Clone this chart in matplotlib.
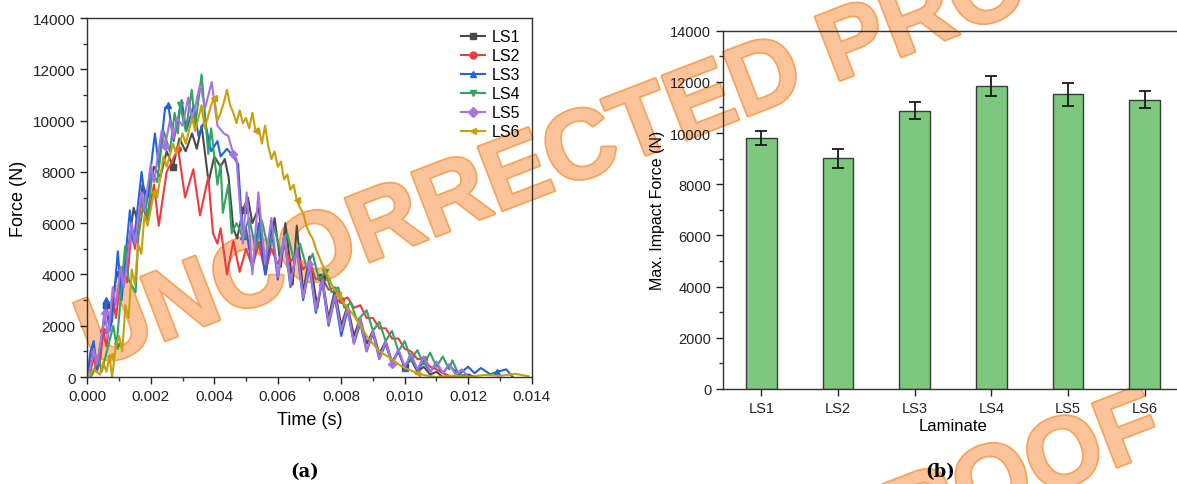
import matplotlib
matplotlib.use("Agg")
import matplotlib.pyplot as plt
import matplotlib.patheffects as pe
from matplotlib.ticker import MultipleLocator, FormatStrFormatter

plt.rcParams['font.family'] = ['Liberation Sans', 'DejaVu Sans']

# ---- panel (a): force-time curves (peaks/troughs) ----
t_ls1 = [0, 0.0001, 0.0002, 0.0003, 0.00045, 0.0006, 0.0007, 0.00085, 0.00096, 0.0011, 0.0013, 0.00146,
         0.0016, 0.00174, 0.0019, 0.0021, 0.0023, 0.0025, 0.0027, 0.0029, 0.0031, 0.0033, 0.00345, 0.0036,
         0.00382, 0.004, 0.0042, 0.00433, 0.00445, 0.0046, 0.00472, 0.0049, 0.00506, 0.0052, 0.0054, 0.00562,
         0.0059, 0.0061, 0.00624, 0.00647, 0.0066, 0.0068, 0.007, 0.00725, 0.0074, 0.0076, 0.0078, 0.008,
         0.0082, 0.0084, 0.0086, 0.0088, 0.009, 0.0092, 0.0094, 0.0096, 0.0098, 0.01, 0.0102, 0.0104, 0.0106,
         0.0108, 0.011, 0.0112, 0.0116, 0.012, 0.0122]
f_ls1 = [0, 500, 1200, 400, 1500, 2800, 2000, 3500, 4100, 3500, 5100, 6600,
         6000, 7500, 7000, 8200, 7800, 8800, 8200, 9300, 8800, 9500, 8900, 9800,
         7600, 8600, 8200, 8500, 7800, 5800, 5400, 6500, 7000, 6000, 6600, 4000,
         6200, 4300, 6000, 3600, 5900, 3300, 4700, 2700, 3900, 2300, 3400, 2000,
         2800, 1600, 2300, 1300, 1800, 900, 1400, 600, 1000, 400, 700, 200, 400,
         100, 200, 0, 0, 100, 0]

t_ls2 = [0, 0.0001, 0.0002, 0.0003, 0.0004, 0.0005, 0.0006, 0.0008, 0.0009, 0.0011, 0.00125, 0.0014,
         0.0015, 0.0017, 0.0019, 0.0021, 0.00225, 0.0025, 0.00286, 0.00308, 0.00334, 0.00355, 0.00381,
         0.00396, 0.0041, 0.0042, 0.0044, 0.0046, 0.0048, 0.005, 0.0052, 0.0054, 0.0056, 0.0058, 0.006,
         0.0062, 0.0064, 0.0066, 0.0068, 0.007, 0.0072, 0.0074, 0.0076, 0.0078, 0.008, 0.0082, 0.0084,
         0.0086, 0.0088, 0.009, 0.0092, 0.0094, 0.0096, 0.0098, 0.01, 0.0102, 0.0104, 0.0106, 0.0108,
         0.011, 0.0112, 0.0114, 0.0116, 0.012]
f_ls2 = [0, 200, 800, 200, 600, 1800, 1200, 3200, 2300, 4300, 3700, 5800,
         5000, 6800, 6100, 7500, 5900, 8000, 8900, 7000, 8100, 6300, 7800,
         5600, 5200, 5800, 4000, 5300, 4100, 5000, 4300, 5200, 4100, 5000, 4400,
         5100, 4500, 4800, 4200, 4500, 3800, 3900, 3400, 3500, 3000, 3100, 2700,
         2800, 2300, 2300, 1900, 1900, 1500, 1500, 1100, 1000, 700, 700, 400,
         300, 150, 50, 0, 0]

t_ls3 = [0, 0.0001, 0.0002, 0.0003, 0.00045, 0.00058, 0.0007, 0.00078, 0.00096, 0.00108, 0.00115, 0.00134,
         0.00146, 0.00171, 0.00185, 0.00213, 0.00225, 0.00245, 0.00255, 0.00272, 0.00297, 0.00312, 0.00335,
         0.0035, 0.0037, 0.0039, 0.0041, 0.0042, 0.0044, 0.0046, 0.00475, 0.0049, 0.005, 0.0052, 0.0054,
         0.0056, 0.0058, 0.006, 0.0062, 0.0064, 0.0066, 0.0068, 0.007, 0.0072, 0.0074, 0.0076, 0.0078,
         0.008, 0.0082, 0.0084, 0.0086, 0.0088, 0.009, 0.0092, 0.0094, 0.0096, 0.0098, 0.01, 0.0102,
         0.0104, 0.0106, 0.0108, 0.011, 0.0112, 0.0114, 0.0117, 0.012, 0.0122, 0.0124, 0.0127, 0.0129,
         0.0132, 0.0134]
f_ls3 = [0, 1000, 1400, 300, 1500, 3000, 1800, 2200, 4900, 3000, 4000, 6500,
         5200, 8000, 6600, 9500, 8200, 10500, 10600, 9200, 10800, 9600, 10600,
         9400, 10000, 8800, 9200, 8600, 8900, 8600, 8300, 5500, 5800, 4200, 6000,
         4000, 5800, 3800, 5500, 3500, 5000, 3000, 4300, 2500, 3700, 2000, 3100,
         1600, 2600, 1300, 2100, 1000, 1700, 700, 1300, 500, 1000, 350, 800,
         250, 600, 200, 500, 150, 450, 100, 400, 150, 350, 100, 200,
         300, 0]

t_ls4 = [0.0001, 0.0002, 0.00035, 0.00045, 0.00082, 0.00092, 0.00119, 0.0013, 0.00152, 0.00161, 0.0018,
         0.0019, 0.00205, 0.0022, 0.0024, 0.0026, 0.00275, 0.00285, 0.00292, 0.0031, 0.00329, 0.0034,
         0.0036, 0.00381, 0.0039, 0.0041, 0.0042, 0.00427, 0.00444, 0.00455, 0.0047, 0.0049, 0.0051,
         0.0053, 0.0055, 0.0057, 0.0059, 0.0061, 0.0063, 0.0065, 0.0067, 0.0069, 0.0071, 0.0073, 0.0075,
         0.0077, 0.0079, 0.0081, 0.0083, 0.0085, 0.0088, 0.009, 0.0092, 0.0094, 0.0096, 0.0098, 0.01,
         0.0102, 0.0104, 0.0106, 0.0108, 0.011, 0.0112, 0.0114, 0.0115, 0.0117, 0.0119, 0.0121]
f_ls4 = [0, 200, 800, 200, 2000, 1200, 5100, 3800, 3300, 5500, 7000,
         6200, 8000, 7600, 9600, 8800, 10300, 9500, 10600, 9600, 11200, 9800,
         11800, 8700, 9700, 7500, 8300, 6400, 7500, 5600, 6000, 5500, 6200,
         5000, 6100, 5000, 5800, 4800, 5600, 4600, 5200, 4300, 4800, 3800, 4100,
         3300, 3500, 2700, 2900, 2200, 2600, 1800, 2150, 1400, 1800, 1000, 1400,
         700, 1050, 500, 950, 400, 800, 300, 650, 100, 50, 0]

t_ls5 = [0, 0.0001, 0.0002, 0.0003, 0.0004, 0.00055, 0.00065, 0.0008, 0.0009, 0.00105, 0.00115, 0.0014,
         0.0015, 0.0017, 0.0018, 0.002, 0.0021, 0.00234, 0.00245, 0.0026, 0.00272, 0.00282, 0.003,
         0.00318, 0.0033, 0.00355, 0.00371, 0.00392, 0.0041, 0.0043, 0.00444, 0.0046, 0.0047, 0.0049,
         0.00502, 0.0052, 0.00539, 0.0056, 0.0058, 0.006, 0.0062, 0.0064, 0.0066, 0.0068, 0.007, 0.0072,
         0.0074, 0.0076, 0.0078, 0.008, 0.0082, 0.0084, 0.0086, 0.0088, 0.009, 0.0092, 0.0094, 0.0096,
         0.0098, 0.01, 0.0102, 0.0104, 0.0106, 0.0108, 0.011, 0.0112, 0.0114, 0.0116, 0.0118, 0.012]
f_ls5 = [0, 400, 1100, 500, 1200, 2500, 1500, 3500, 2800, 4300, 3500, 6000,
         5200, 7200, 6500, 8300, 7600, 9600, 9000, 10000, 9300, 10100, 9800,
         10900, 10000, 11400, 10500, 11500, 9800, 9500, 9400, 8700, 8500, 5200,
         7200, 4000, 7200, 4400, 6200, 3900, 5500, 3600, 5000, 3100, 4400, 2600,
         3800, 2100, 3200, 1800, 2700, 1300, 2300, 1000, 1800, 700, 1400, 500,
         1100, 400, 900, 300, 800, 200, 600, 150, 500, 100, 300, 0]

t_ls6 = [0, 0.0002, 0.0004, 0.0005, 0.0006, 0.0007, 0.00078, 0.0009, 0.001, 0.0011, 0.0012, 0.0013,
         0.0014, 0.0015, 0.0016, 0.0017, 0.0018, 0.0019, 0.0021, 0.0022, 0.0024, 0.0025, 0.0027, 0.0028,
         0.003, 0.0031, 0.0033, 0.0034, 0.0036, 0.0037, 0.0039, 0.004, 0.0041, 0.0042, 0.0043, 0.0044,
         0.0045, 0.0046, 0.0047, 0.0048, 0.0049, 0.005, 0.0051, 0.0052, 0.0053, 0.0054, 0.0055, 0.0056,
         0.0057, 0.0058, 0.0059, 0.006, 0.0061, 0.0062, 0.0063, 0.0064, 0.0065, 0.0066, 0.0067, 0.0068,
         0.0069, 0.007, 0.0071, 0.0072, 0.0073, 0.0074, 0.0075, 0.0076, 0.0077, 0.0078, 0.0079, 0.008,
         0.0082, 0.0084, 0.0086, 0.0088, 0.009, 0.0092, 0.0094, 0.0096, 0.0098, 0.01, 0.0102, 0.0104,
         0.0106, 0.0108, 0.011, 0.0115, 0.012, 0.0125, 0.013, 0.0135, 0.0139]
f_ls6 = [0, 300, 100, 600, 200, 800, 0, 1200, 1600, 1000, 2800, 2300,
         4200, 3600, 5200, 4800, 6300, 5900, 7200, 7000, 8600, 8200, 9100, 8700,
         9500, 9100, 10100, 9600, 10600, 9700, 10600, 10900, 10000, 10300, 10700, 11200,
         10600, 10300, 9900, 10400, 9900, 10100, 9700, 10300, 9600, 9700, 9100, 9800,
         9000, 8500, 8800, 8200, 8400, 7700, 7900, 7300, 7500, 6900, 6600, 6400,
         5900, 5600, 5400, 5000, 4700, 4400, 4100, 3900, 3600, 3400, 3200, 3000,
         2700, 2400, 2000, 1600, 1300, 1000, 850, 700, 500, 350, 250, 150,
         80, 40, 0, 50, 0, 80, 50, 120, 30]

series_names = ["LS1", "LS2", "LS3", "LS4", "LS5", "LS6"]
series_t = [t_ls1, t_ls2, t_ls3, t_ls4, t_ls5, t_ls6]
series_f = [f_ls1, f_ls2, f_ls3, f_ls4, f_ls5, f_ls6]
colors = ['#4a4a4a', '#ef3a40', '#2165d8', '#30a460', '#a972e2', '#c9a00c']
markers = ['s', 'o', '^', 'v', 'D', '<']

# ---- panel (b): max impact force ----
laminates = ["LS1", "LS2", "LS3", "LS4", "LS5", "LS6"]
max_force = [9810, 9010, 10880, 11830, 11510, 11300]
max_force_err = [260, 370, 330, 400, 450, 330]

fig = plt.figure(figsize=(11.77, 4.85), dpi=100)

ax1 = fig.add_axes([0.0742, 0.2206, 0.3775, 0.7402])
ax1.patch.set_alpha(0)
for t, f, c, m, n in zip(series_t, series_f, colors, markers, series_names):
    ax1.plot(t, f, color=c, lw=1.5, marker=m, ms=4, markevery=(5, 13), label=n)
ax1.set_xlim(0, 0.014)
ax1.set_ylim(0, 14000)
ax1.xaxis.set_major_locator(MultipleLocator(0.002))
ax1.xaxis.set_minor_locator(MultipleLocator(0.001))
ax1.xaxis.set_major_formatter(FormatStrFormatter('%.3f'))
ax1.yaxis.set_major_locator(MultipleLocator(2000))
ax1.yaxis.set_minor_locator(MultipleLocator(1000))
ax1.set_xlabel("Time (s)", fontsize=13, labelpad=6)
ax1.set_ylabel("Force (N)", fontsize=13, labelpad=4)
leg = ax1.legend(loc='upper right', frameon=False, fontsize=11.5, handlelength=1.5,
                 handletextpad=0.4, labelspacing=0.25, borderaxespad=0.3)
for h in leg.legend_handles:
    h.set_markersize(5)

ax2 = fig.add_axes([0.6143, 0.1959, 0.3908, 0.7387])
ax2.patch.set_alpha(0)
pos = list(range(1, len(laminates) + 1))
ax2.bar(pos, max_force, width=0.4, color='#7dc87e', edgecolor='#3a3a3a', lw=1.0,
        yerr=max_force_err, capsize=4, error_kw=dict(elinewidth=1.3, capthick=1.3, ecolor='#1a1a1a'))
ax2.set_xlim(0.5, 6.5)
ax2.set_ylim(0, 14000)
ax2.set_xticks(pos)
ax2.set_xticklabels(laminates)
ax2.yaxis.set_major_locator(MultipleLocator(2000))
ax2.yaxis.set_minor_locator(MultipleLocator(1000))
ax2.set_xlabel("Laminate", fontsize=12, labelpad=2)
ax2.set_ylabel("Max. Impact Force (N)", fontsize=11.5, labelpad=4)

for ax in (ax1, ax2):
    for s in ax.spines.values():
        s.set_linewidth(1.0)
        s.set_color('#333333')
    ax.tick_params(which='major', direction='out', length=5, width=1, labelsize=11, colors='#222222')
    ax.tick_params(which='minor', direction='out', length=3, width=1, colors='#333333')
ax2.tick_params(axis='x', which='minor', length=0)
ax2.tick_params(labelsize=10.5)

fig.text(0.259, 0.017, "(a)", fontsize=13, fontweight='bold', family='DejaVu Serif', ha='center')
fig.text(0.799, 0.017, "(b)", fontsize=13, fontweight='bold', family='DejaVu Serif', ha='center')

# watermark, drawn behind the plots
wm_style = dict(fontsize=71, fontweight='bold', color='#fac39a', ha='left', va='baseline',
                rotation=21.1, rotation_mode='anchor', zorder=-10,
                path_effects=[pe.withStroke(linewidth=2.5, foreground='#f6a35c')])
fig.text(0.0788, 0.238, "UNCORRECTED PROOF", **wm_style)
fig.text(0.084, -0.775, "UNCORRECTED PROOF", **wm_style)

fig.savefig("out.png", dpi=100)
